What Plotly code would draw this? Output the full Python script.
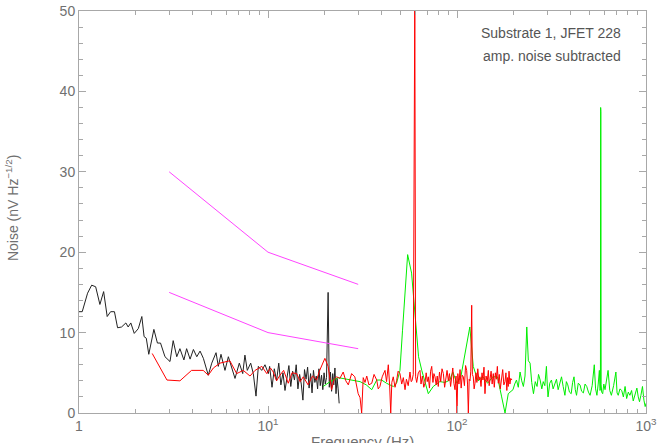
import plotly.graph_objects as go

# ---- data ----
black_f = [1.0, 1.04, 1.11, 1.167, 1.225, 1.29, 1.35, 1.41, 1.47, 1.54, 1.60, 1.68, 1.77, 1.82, 1.88,
           1.96, 2.06, 2.15, 2.21, 2.27, 2.34, 2.49, 2.60, 2.70, 2.85, 3.03, 3.15, 3.29, 3.42, 3.59,
           3.71, 3.87, 4.03, 4.20, 4.37, 4.55, 4.83, 5.04, 5.31, 5.46, 5.64, 5.92, 6.17, 6.42, 6.69,
           7.05, 7.35, 7.55, 7.77, 8.10, 8.36, 8.64, 8.89, 9.26, 9.64, 10.04,
           10.2, 10.5, 10.8, 11.1, 11.4, 11.7, 12.0, 12.3, 12.6, 12.9, 13.2, 13.5, 13.8, 14.1, 14.4,
           14.7, 15.0, 15.3, 15.6, 15.9, 16.2, 16.5, 16.8, 17.1, 17.4, 17.7, 18.0, 18.3, 18.6, 18.9,
           19.2, 19.5, 19.8, 20.1, 20.4, 20.8, 21.1, 21.4, 21.7, 22.0, 22.3, 22.6, 22.9, 23.2, 23.5, 23.8]
black_v = [12.6, 12.6, 14.9, 15.9, 15.7, 13.5, 15.1, 12.0, 12.6, 12.6, 10.6, 10.7, 11.2, 10.7, 11.2,
           9.9, 10.5, 12.0, 9.5, 9.3, 7.3, 10.4, 8.7, 8.7, 7.0, 6.4, 9.0, 7.0, 8.0, 6.6,
           8.0, 6.7, 7.9, 7.0, 7.7, 6.8, 4.7, 6.2, 7.5, 5.8, 7.3, 5.3, 7.0, 5.6, 4.3,
           6.2, 4.9, 7.2, 5.3, 6.2, 4.9, 2.1, 5.8, 5.3, 6.0, 4.9,
           5.8, 3.2, 5.5, 4.0, 6.2, 3.5, 5.0, 2.8, 4.6, 5.9, 3.3, 5.2, 4.1, 6.0, 3.0,
           4.8, 3.6, 1.6, 5.4, 4.2, 5.7, 3.1, 4.9, 2.5, 5.3, 3.8, 4.6, 3.0, 5.5, 3.4,
           4.7, 2.9, 5.0, 3.6, 4.4, 15.0, 3.2, 5.1, 2.7, 4.9, 3.5, 5.6, 2.4, 4.3, 3.0, 1.2]

red_f = [2.44, 2.92, 3.42, 3.94, 4.54, 4.83, 5.14, 5.57, 6.28, 6.83, 7.40, 8.03, 8.54, 9.28, 9.85,
         10.3, 10.66, 11.1, 11.57, 12.1, 12.8, 13.4, 14.18, 14.8, 15.37, 16.3, 17.2, 18.1, 18.7, 19.2,
         20.0, 20.8, 21.3, 21.7, 22.4, 23.1, 24.0, 25.0, 25.8, 26.6, 27.7, 28.8, 30.0, 30.7, 31.3,
         31.9, 32.6, 33.3, 34.2, 35.4, 36.4, 37.6, 38.3, 39.1, 40.2, 41.6, 42.4, 43.3, 44.0, 44.6,
         45.2, 46.0, 47.0, 47.9, 48.8, 49.9, 51.0, 52.0, 53.1, 54.0, 55.2, 56.4, 57.2, 57.8, 58.7,
         59.4, 59.6, 59.8, 60.4, 61.2, 62.4, 63.7, 64.5, 65.6, 66.7, 67.7, 68.7, 69.6, 70.5, 71.5,
         72.5, 73.5, 74.6, 75.5, 76.5, 77.6, 78.6, 79.6, 80.8, 82.0, 83.3, 84.7, 86.0, 87.3, 88.6,
         90.0, 91.2, 92.5, 93.8, 95.0, 96.3, 97.6, 98.8, 100.0, 101.0, 102.4, 103.8, 105.2, 106.6, 108.0,
         109.5, 111.0, 112.5, 113.7, 114.8, 116.0, 117.1, 118.3, 119.6, 120.6, 121.9, 123.2, 124.5, 126.0, 127.4,
         128.8, 130.5, 132.3, 134.0, 135.6, 137.2, 138.9, 140.6, 142.5, 144.5, 146.5, 148.0, 149.5, 151.5, 153.5,
         155.6, 157.5, 159.6, 161.5, 163.5, 165.4, 167.4, 169.5, 172.3, 174.5, 177.0, 179.5, 181.5, 183.5, 185.0,
         186.7, 188.5, 190.5, 192.5, 195.4]
red_v = [7.4, 4.1, 4.0, 5.3, 5.3, 4.7, 5.6, 6.2, 6.5, 4.9, 5.3, 4.6, 5.3, 5.8, 4.9,
         5.6, 5.1, 4.0, 4.7, 5.3, 3.7, 5.0, 4.9, 3.9, 4.5, 3.5, 4.6, 4.1, 5.2, 5.8,
         6.8, 5.8, 4.0, 2.9, 4.2, 4.5, 4.3, 5.1, 4.0, 3.5, 4.9, 4.5, 2.4, 1.9, 0.0,
         4.4, 3.8, 4.6, 3.5, 3.7, 4.8, 4.1, 3.0, 3.3, 4.5, 5.3, 3.9, 6.0, 3.5, 0.0,
         3.8, 4.5, 3.2, 4.0, 5.2, 4.9, 3.6, 4.4, 2.9, 4.2, 3.4, 5.1, 3.9, 4.0, 4.8,
         52.0, 33.0, 52.0, 4.5, 3.8, 5.0, 5.3, 3.6, 4.6, 3.2, 3.7, 5.0, 3.9, 4.5, 3.1,
         5.2, 5.8, 3.8, 4.9, 4.5, 3.5, 4.6, 3.3, 5.1, 3.9, 5.5, 4.9, 3.2, 4.4, 5.3,
         4.0, 4.9, 3.3, 4.5, 5.6, 3.7, 2.9, 4.6, 0.0, 4.9, 3.6, 5.4, 3.1, 4.7, 4.5,
         3.4, 5.9, 5.3, 3.6, 0.0, 4.2, 4.0, 5.2, 13.4, 4.8, 4.5, 3.0, 3.7, 5.0, 3.8,
         5.5, 4.1, 4.5, 3.3, 5.0, 4.1, 5.7, 2.4, 4.6, 3.9, 5.3, 3.4, 4.1, 5.2, 3.6,
         4.9, 3.2, 5.0, 4.2, 5.8, 3.7, 4.8, 3.0, 4.5, 5.4, 3.5, 3.9, 5.0, 2.8, 4.4,
         3.3, 5.2, 3.6, 4.3, 4.1]

green_f = [19.6, 21.3, 23.5, 26.1, 29.4, 30.7, 33.1, 35.4, 37.6, 39.9, 42.4, 46.0, 47.9, 49.9, 51.5,
           54.8, 57.5, 60.0, 62.6, 65.1, 70.5, 74.9, 81.1, 86.5, 91.7, 95.0, 99.9, 104.8, 110.0, 116.9,
           121.9, 129.2, 137.0, 145.3, 154.5, 163.7, 172.3, 179.5, 186.7, 197.8, 202, 206.4, 211, 215.6, 220,
           224.5, 229, 234, 238.5, 243.6, 248.5, 253.9, 259.5, 265.2, 270, 275.4, 281, 286, 291.5, 297.3,
           300.2, 303.1, 309.5, 316, 322.5, 329.3, 336, 343, 350, 357.3, 364.5, 372.4, 379, 385.6, 393.5,
           402, 409, 416, 422.5, 429, 438, 447.5, 456.5, 466.3, 476, 485.8, 496, 506, 519, 532.6,
           541, 550, 558.5, 566.6, 571, 574.0, 575.5, 577.0, 579, 583, 590, 598, 607, 618, 630,
           643, 656, 674, 693, 703, 713, 728, 744, 759, 775, 790, 806, 822, 839, 856,
           875, 895, 910, 924, 940, 958, 975, 990, 1000]
green_v = [3.3, 3.9, 4.4, 4.2, 4.0, 3.9, 3.5, 2.9, 4.1, 4.1, 3.7, 3.3, 3.7, 5.3, 10.3,
           19.7, 17.4, 12.0, 7.0, 5.3, 2.4, 3.3, 3.9, 3.8, 4.1, 5.1, 3.7, 4.5, 7.4, 10.7,
           5.8, 4.0, 4.5, 3.7, 4.5, 4.5, 2.0, 0.0, 2.4, 2.9, 3.6, 4.1, 3.2, 5.1, 4.0,
           3.3, 4.6, 10.7, 6.5, 6.2, 3.8, 2.4, 3.9, 3.3, 4.8, 4.1, 3.0, 3.9, 3.4, 5.8,
           3.6, 2.0, 3.7, 4.1, 3.0, 3.5, 4.2, 2.9, 3.6, 4.5, 3.3, 2.2, 3.9, 3.5, 2.6,
           2.4, 3.8, 4.5, 2.9, 2.2, 3.7, 3.5, 2.7, 2.5, 3.6, 3.3, 2.6, 2.2, 3.4, 6.0,
           3.0, 2.2, 3.6, 5.3, 2.8, 3.0, 38.0, 37.5, 3.5, 2.6, 2.4, 3.6, 2.9, 4.0, 5.3,
           2.8, 2.2, 3.4, 5.1, 2.5, 2.2, 3.0, 2.8, 2.0, 3.3, 1.8, 2.6, 2.2, 2.8, 1.5,
           2.4, 3.1, 2.0, 1.4, 2.2, 3.3, 1.6, 0.8, 1.2]

ref_f = [3, 10, 30]
ref_upper = [30, 20, 16]
ref_lower = [15, 10, 8]

x_ticks = [1, 10, 100, 1000]
x_ticktext = ["1", "10<sup>1</sup>", "10<sup>2</sup>", "10<sup>3</sup>"]
x_minor = [2, 3, 4, 5, 6, 7, 8, 9, 20, 30, 40, 50, 60, 70, 80, 90, 200, 300, 400, 500, 600, 700, 800, 900]
y_ticks = [0, 10, 20, 30, 40, 50]

AX = "#a8a8a8"
TXT = "#707070"
FONT = "Liberation Sans"

fig = go.Figure()
fig.add_trace(go.Scatter(x=black_f, y=black_v, mode="lines", line=dict(color="#222222", width=1)))
fig.add_trace(go.Scatter(x=green_f, y=green_v, mode="lines", line=dict(color="#00ee00", width=1)))
fig.add_trace(go.Scatter(x=red_f, y=red_v, mode="lines", line=dict(color="#ff0000", width=1)))
fig.add_trace(go.Scatter(x=ref_f, y=ref_upper, mode="lines", line=dict(color="#ff44ff", width=1)))
fig.add_trace(go.Scatter(x=ref_f, y=ref_lower, mode="lines", line=dict(color="#ff44ff", width=1)))

fig.update_layout(
    width=658, height=443,
    margin=dict(l=79, r=12, t=11, b=30, autoexpand=False),
    paper_bgcolor="white", plot_bgcolor="white",
    showlegend=False,
    font=dict(family=FONT, color=TXT, size=13),
    xaxis=dict(type="log", range=[0, 3], showgrid=False, zeroline=False,
               showline=True, linecolor=AX, linewidth=1, mirror="ticks",
               ticks="inside", ticklen=7, tickcolor=AX, tickwidth=1,
               tickmode="array", tickvals=x_ticks, ticktext=x_ticktext,
               tickfont=dict(size=14, color=TXT, family=FONT), automargin=False,
               minor=dict(tickmode="array", tickvals=x_minor, ticks="inside", ticklen=4,
                          tickcolor=AX, tickwidth=1, showgrid=False)),
    yaxis=dict(range=[0, 50], showgrid=False, zeroline=False,
               showline=True, linecolor=AX, linewidth=1, mirror="ticks",
               ticks="inside", ticklen=7, tickcolor=AX, tickwidth=1,
               tickmode="array", tickvals=y_ticks, automargin=False,
               tickfont=dict(size=14, color=TXT, family=FONT),
               minor=dict(dtick=2, ticks="inside", ticklen=4, tickcolor=AX, tickwidth=1,
                          showgrid=False)),
    annotations=[
        dict(text="Frequency (Hz)", xref="paper", yref="paper", x=0.5, y=-0.045,
             xanchor="center", yanchor="top", showarrow=False,
             font=dict(size=15, color=TXT, family=FONT)),
        dict(text="Noise (nV Hz<sup>\u22121/2</sup>)", xref="paper", yref="paper",
             x=-0.118, y=0.51, xanchor="center", yanchor="middle", textangle=-90,
             showarrow=False, font=dict(size=14, color=TXT, family=FONT)),
        dict(text="Substrate 1, JFET 228", xref="paper", yref="paper", x=0.96, y=0.945,
             xanchor="right", yanchor="middle", showarrow=False,
             font=dict(size=14, color="#555555", family=FONT)),
        dict(text="amp. noise subtracted", xref="paper", yref="paper", x=0.96, y=0.887,
             xanchor="right", yanchor="middle", showarrow=False,
             font=dict(size=14, color="#555555", family=FONT)),
    ],
)

fig.write_html("out.html", config={"displayModeBar": False},
               post_script="document.body.style.margin='0';document.body.style.overflow='hidden';")
